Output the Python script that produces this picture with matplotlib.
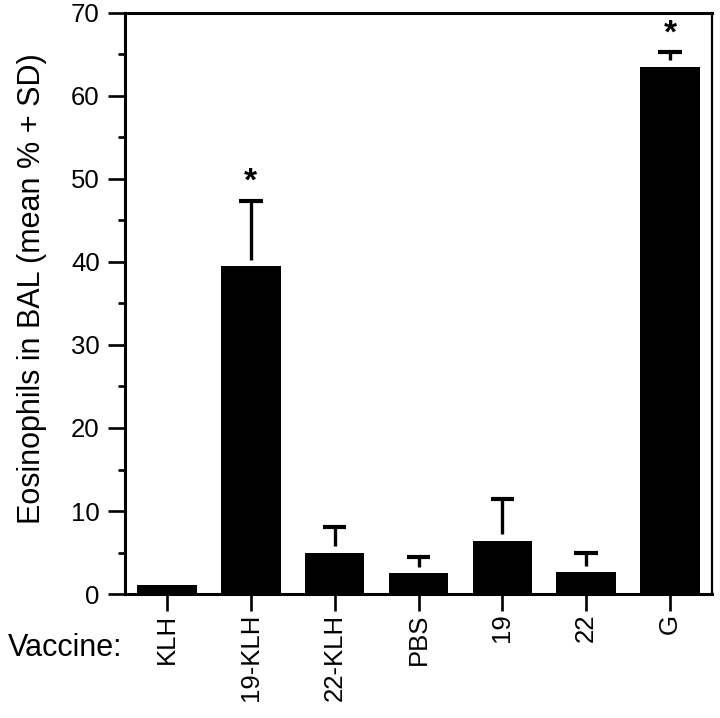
import numpy as np
import matplotlib
matplotlib.use('Agg')
import matplotlib.pyplot as plt
from matplotlib.ticker import MultipleLocator

plt.rcParams['font.family'] = ['Liberation Sans', 'DejaVu Sans']

# datos
vaccines = ['KLH', '19-KLH', '22-KLH', 'PBS', '19', '22', 'G']
mean_pct = [1.1, 39.5, 5.0, 2.5, 6.4, 2.6, 63.5]
sd_pct = [0.0, 7.9, 3.1, 1.9, 5.1, 2.3, 1.8]
significant = [False, True, False, False, False, False, True]

fig = plt.figure(figsize=(7.2, 7.18), dpi=100)
ax = fig.add_axes([0.1736, 0.1727, 0.8153, 0.8092])

x = np.arange(len(vaccines))
ax.bar(x, mean_pct, width=0.71, color='black', edgecolor='none', zorder=2)

# barras de error solo hacia arriba, con un pequeño hueco sobre la barra
gap = 0.8
for xi, m, s, sig in zip(x, mean_pct, sd_pct, significant):
    if s > gap:
        ax.vlines(xi, m + gap, m + s, color='black', lw=2.4, zorder=3)
        ax.hlines(m + s, xi - 0.14, xi + 0.14, color='black', lw=3.0, zorder=3)
    if sig:
        ax.text(xi, m + s + 2.2, '*', ha='center', va='center', fontsize=24,
                fontweight='bold')

ax.set_xlim(-0.5, 6.5)
ax.set_ylim(0, 70)
ax.yaxis.set_major_locator(MultipleLocator(10))
ax.yaxis.set_minor_locator(MultipleLocator(5))
ax.set_xticks(x)
ax.set_xticklabels(vaccines, rotation=90, fontsize=18.5, va='top', ha='center')

ax.tick_params(axis='y', which='major', direction='out', length=12.2, width=1.9, pad=6)
ax.tick_params(axis='y', which='minor', direction='out', length=5, width=1.9)
ax.tick_params(axis='x', which='major', direction='out', length=12.2, width=1.9, pad=2)
ax.tick_params(axis='y', labelsize=18.5)

for side in ['left', 'bottom', 'top']:
    ax.spines[side].set_linewidth(2.2)
ax.spines['right'].set_linewidth(1.6)

fig.text(32 / 720, 1 - 289 / 718, 'Eosinophils in BAL (mean % + SD)', rotation=90,
         ha='center', va='center', fontsize=22)
fig.text(8 / 720, 1 - 648 / 718, 'Vaccine:', ha='left', va='center', fontsize=22)

fig.savefig('out.png', dpi=100)
